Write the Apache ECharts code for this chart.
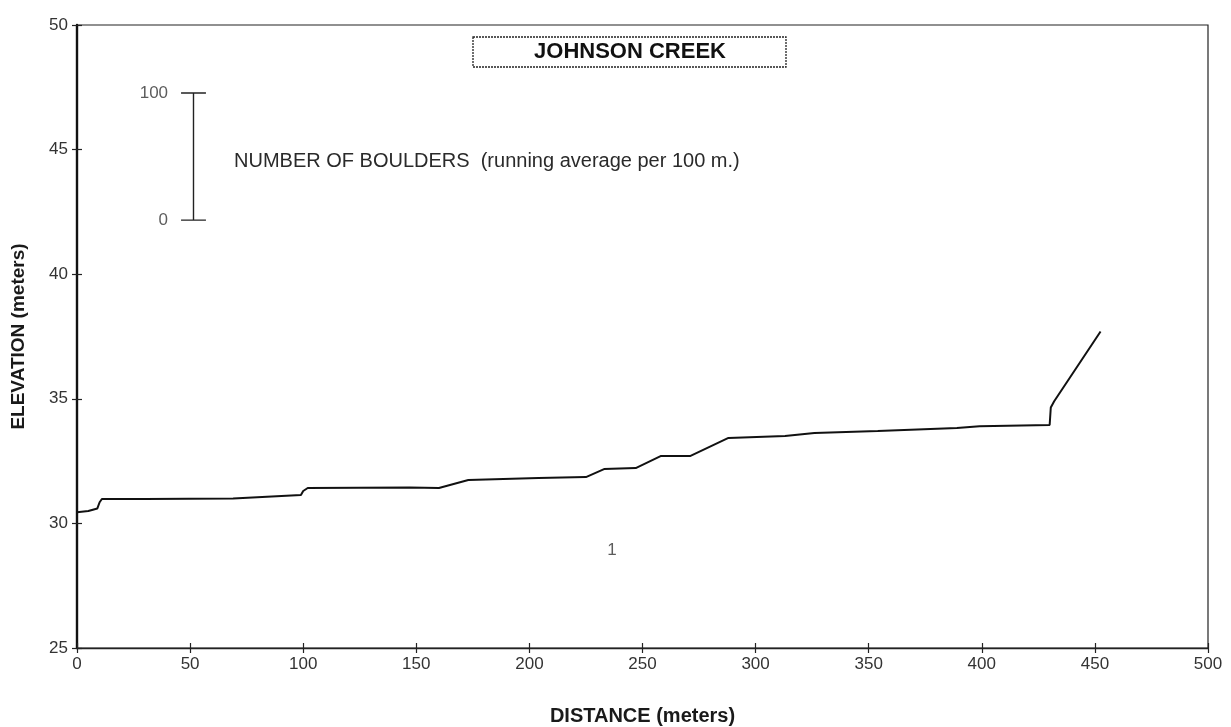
<!DOCTYPE html>
<html>
<head>
<meta charset="utf-8">
<script src="https://cdn.jsdelivr.net/npm/echarts@6/dist/echarts.min.js"></script>
<style>
  html, body { margin: 0; padding: 0; background: #fff; }
  #chart { width: 1231px; height: 727px; }
</style>
</head>
<body>
<div id="chart"></div>
<script>
// Stream long profile: distance along the channel and bed elevation
const distance = [0, 5, 9, 10, 11, 30, 69, 99, 100, 102, 147, 160, 173, 204, 225, 233, 247, 258, 271, 288, 313, 326, 354, 389, 399, 430, 430.5, 432, 452.5];
const elevation = [30.45, 30.5, 30.6, 30.85, 30.98, 30.98, 31.0, 31.14, 31.3, 31.42, 31.44, 31.42, 31.74, 31.82, 31.86, 32.18, 32.22, 32.7, 32.7, 33.43, 33.51, 33.63, 33.71, 33.83, 33.9, 33.95, 34.65, 34.9, 37.7];

// Scale bar for boulder counts (placed in the chart's data space)
const scaleBarX = [51.5, 46, 57];            // bar position, cap start, cap end
const scaleBarY = [42.17, 47.27];            // 0 and 100 boulders
const scaleBarLabels = ['0', '100'];

// Reach label
const segmentLabel = '1';
const segmentLabelPos = [236.5, 28.9];

const xTicks = { min: 0, max: 500, interval: 50 };
const yTicks = { min: 25, max: 50, interval: 5 };

const chartTitle = 'JOHNSON CREEK';
const scaleCaption = 'NUMBER OF BOULDERS  (running average per 100 m.)';
const xName = 'DISTANCE (meters)';
const yName = 'ELEVATION (meters)';

const FONT = '"Liberation Sans", Arial, sans-serif';
const chart = echarts.init(document.getElementById('chart'), null, { renderer: 'canvas' });

const profile = distance.map((d, i) => [d, elevation[i]]);

const axisLabelStyle = { color: '#333', fontFamily: FONT, fontSize: 17 };
const axisNameStyle = { color: '#1a1a1a', fontFamily: FONT, fontSize: 20, fontWeight: 'bold' };
const tickStyle = { color: '#222', width: 1.2 };

const baseX = {
  type: 'value', min: xTicks.min, max: xTicks.max, interval: xTicks.interval,
  splitLine: { show: false }
};
const baseY = {
  type: 'value', min: yTicks.min, max: yTicks.max, interval: yTicks.interval,
  splitLine: { show: false }
};

const option = {
  animation: false,
  backgroundColor: '#fff',
  grid: {
    left: 77, right: 23, top: 25, bottom: 79,
    containLabel: false, outerBoundsMode: 'none',
    show: true, borderColor: '#222', borderWidth: 1.2
  },
  xAxis: [
    Object.assign({}, baseX, {
      axisLine: { show: true, onZero: false, lineStyle: { color: '#222', width: 1.3 } },
      axisTick: { show: true, inside: false, length: 5, lineStyle: tickStyle },
      axisLabel: Object.assign({ margin: 8 }, axisLabelStyle),
      name: xName, nameLocation: 'middle', nameGap: 58,
      nameTextStyle: axisNameStyle
    }),
    Object.assign({}, baseX, {
      position: 'bottom',
      axisLine: { show: false },
      axisTick: { show: true, inside: true, length: 5, lineStyle: tickStyle },
      axisLabel: { show: false }
    })
  ],
  yAxis: [
    Object.assign({}, baseY, {
      axisLine: { show: true, onZero: false, lineStyle: { color: '#111', width: 2.4 } },
      axisTick: { show: true, inside: false, length: 5, lineStyle: tickStyle },
      axisLabel: Object.assign({ margin: 9 }, axisLabelStyle),
      name: yName, nameLocation: 'middle', nameGap: 49, nameRotate: 90,
      nameTextStyle: Object.assign({}, axisNameStyle, { fontSize: 19 })
    }),
    Object.assign({}, baseY, {
      position: 'left',
      axisLine: { show: false },
      axisTick: { show: true, inside: true, length: 5, lineStyle: tickStyle },
      axisLabel: { show: false }
    })
  ],
  series: [
    {
      name: 'Elevation', type: 'line', data: profile,
      xAxisIndex: 0, yAxisIndex: 0, smooth: false,
      symbol: 'none', lineStyle: { color: '#111', width: 2 }
    },
    {
      // vertical scale bar
      name: 'Scale', type: 'line', xAxisIndex: 0, yAxisIndex: 0,
      data: [[scaleBarX[0], scaleBarY[0]], [scaleBarX[0], scaleBarY[1]]],
      symbol: 'none', lineStyle: { color: '#222', width: 1.4 }
    },
    {
      name: 'ScaleCapLow', type: 'line', xAxisIndex: 0, yAxisIndex: 0,
      data: [[scaleBarX[1], scaleBarY[0]], [scaleBarX[2], scaleBarY[0]]],
      symbol: 'none', lineStyle: { color: '#222', width: 1.4 }
    },
    {
      name: 'ScaleCapHigh', type: 'line', xAxisIndex: 0, yAxisIndex: 0,
      data: [[scaleBarX[1], scaleBarY[1]], [scaleBarX[2], scaleBarY[1]]],
      symbol: 'none', lineStyle: { color: '#222', width: 1.4 }
    },
    {
      name: 'ScaleLabels', type: 'scatter', xAxisIndex: 0, yAxisIndex: 0,
      symbolSize: 0, silent: true,
      data: scaleBarY.map((y, i) => ({ value: [scaleBarX[1], y], label: { formatter: scaleBarLabels[i] } })),
      label: { show: true, position: 'left', distance: 13, color: '#333', fontFamily: FONT, fontSize: 17 }
    },
    {
      name: 'Segment', type: 'scatter', xAxisIndex: 0, yAxisIndex: 0,
      symbolSize: 0, silent: true,
      data: [{ value: segmentLabelPos, label: { formatter: segmentLabel } }],
      label: { show: true, position: 'inside', color: '#333', fontFamily: FONT, fontSize: 17 }
    }
  ],
  graphic: [
    {
      type: 'rect', x: 473, y: 37,
      shape: { width: 313, height: 30 },
      style: { fill: '#fff', stroke: '#222', lineWidth: 1.3, lineDash: [2, 1] }
    },
    {
      type: 'text', x: 630, y: 52,
      style: {
        text: chartTitle, fill: '#111', font: 'bold 22px ' + FONT,
        textAlign: 'center', textVerticalAlign: 'middle', letterSpacing: 2.2
      }
    },
    {
      type: 'text', x: 234, y: 161,
      style: {
        text: scaleCaption, fill: '#2a2a2a', font: '20px ' + FONT,
        textVerticalAlign: 'middle', letterSpacing: 1.15
      }
    }
  ]
};

chart.setOption(option);
</script>
</body>
</html>
